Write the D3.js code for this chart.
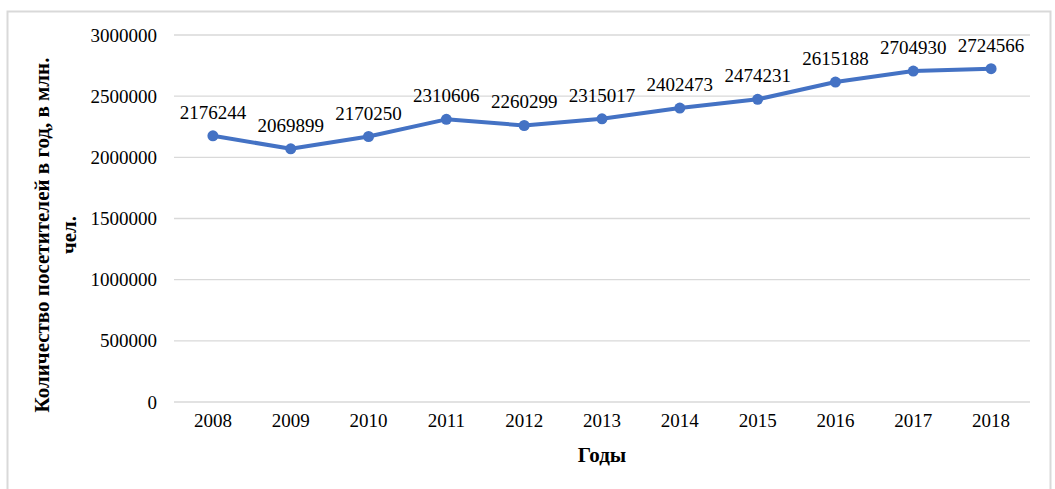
<!DOCTYPE html>
<html>
<head>
<meta charset="utf-8">
<script src="https://cdn.jsdelivr.net/npm/d3@7"></script>
<style>
    body { margin: 0; background: #fff; }
    text { font-family: "Liberation Serif", "Times New Roman", serif; }
</style>
</head>
<body>
<div id="chart-container"></div>
<script>
var years = ["2008", "2009", "2010", "2011", "2012", "2013", "2014", "2015", "2016", "2017", "2018"];
var visitors = [2176244, 2069899, 2170250, 2310606, 2260299, 2315017, 2402473, 2474231, 2615188, 2704930, 2724566];
var yTicks = [0, 500000, 1000000, 1500000, 2000000, 2500000, 3000000];

var margin = { top: 35, right: 25, bottom: 87, left: 174 },
    width = 1055 - margin.left - margin.right,
    height = 489 - margin.top - margin.bottom;

var svg = d3.select("#chart-container")
    .append("svg")
    .attr("width", 1055)
    .attr("height", 489);

// outer frame
svg.append("rect")
    .attr("x", 7.5).attr("y", 11.5)
    .attr("width", 1043).attr("height", 490)
    .attr("fill", "none")
    .attr("stroke", "#d9d9d9")
    .attr("stroke-width", 2);

var g = svg.append("g")
    .attr("transform", "translate(" + margin.left + "," + margin.top + ")");

var x = d3.scaleBand()
    .domain(years)
    .range([0, width]);

var y = d3.scaleLinear()
    .domain([0, 3000000])
    .range([height, 0]);

// gridlines
g.selectAll(".grid")
    .data(yTicks)
    .enter()
    .append("line")
    .attr("x1", 0).attr("x2", width)
    .attr("y1", function (d) { return y(d); })
    .attr("y2", function (d) { return y(d); })
    .attr("stroke", "#d9d9d9")
    .attr("stroke-width", 1.3);

// y axis labels
var yAxis = g.append("g")
    .call(d3.axisLeft(y).tickValues(yTicks).tickSize(0).tickPadding(17).tickFormat(d3.format("d")));
yAxis.select(".domain").remove();
yAxis.selectAll("text")
    .style("font-family", "Liberation Serif")
    .style("font-size", "19px")
    .attr("fill", "#000");

// x axis labels
var xAxis = g.append("g")
    .attr("transform", "translate(0," + height + ")")
    .call(d3.axisBottom(x).tickSize(0).tickPadding(12));
xAxis.select(".domain").remove();
xAxis.selectAll("text")
    .style("font-family", "Liberation Serif")
    .style("font-size", "19px")
    .attr("fill", "#000");

// line
var line = d3.line()
    .x(function (d, i) { return x(years[i]) + x.bandwidth() / 2; })
    .y(function (d) { return y(d); });

g.append("path")
    .datum(visitors)
    .attr("d", line)
    .attr("fill", "none")
    .attr("stroke", "#4472c4")
    .attr("stroke-width", 4)
    .attr("stroke-linejoin", "round");

g.selectAll(".dot")
    .data(visitors)
    .enter()
    .append("circle")
    .attr("cx", function (d, i) { return x(years[i]) + x.bandwidth() / 2; })
    .attr("cy", function (d) { return y(d); })
    .attr("r", 5.5)
    .attr("fill", "#4472c4");

// data labels
g.selectAll(".label")
    .data(visitors)
    .enter()
    .append("text")
    .attr("x", function (d, i) { return x(years[i]) + x.bandwidth() / 2; })
    .attr("y", function (d) { return y(d) - 17; })
    .attr("text-anchor", "middle")
    .style("font-size", "19px")
    .attr("fill", "#000")
    .text(function (d) { return d; });

// axis titles
svg.append("text")
    .attr("x", margin.left + width / 2)
    .attr("y", 462)
    .attr("text-anchor", "middle")
    .style("font-size", "21px")
    .style("font-weight", "bold")
    .text("Годы");

var yTitle = svg.append("text")
    .attr("transform", "translate(49,235)rotate(-90)")
    .attr("text-anchor", "middle")
    .style("font-size", "21px")
    .style("font-weight", "bold");
yTitle.append("tspan").attr("x", 0).attr("dy", 0).text("Количество посетителей в год, в млн.");
yTitle.append("tspan").attr("x", 0).attr("dy", 27).text("чел.");
</script>
</body>
</html>
